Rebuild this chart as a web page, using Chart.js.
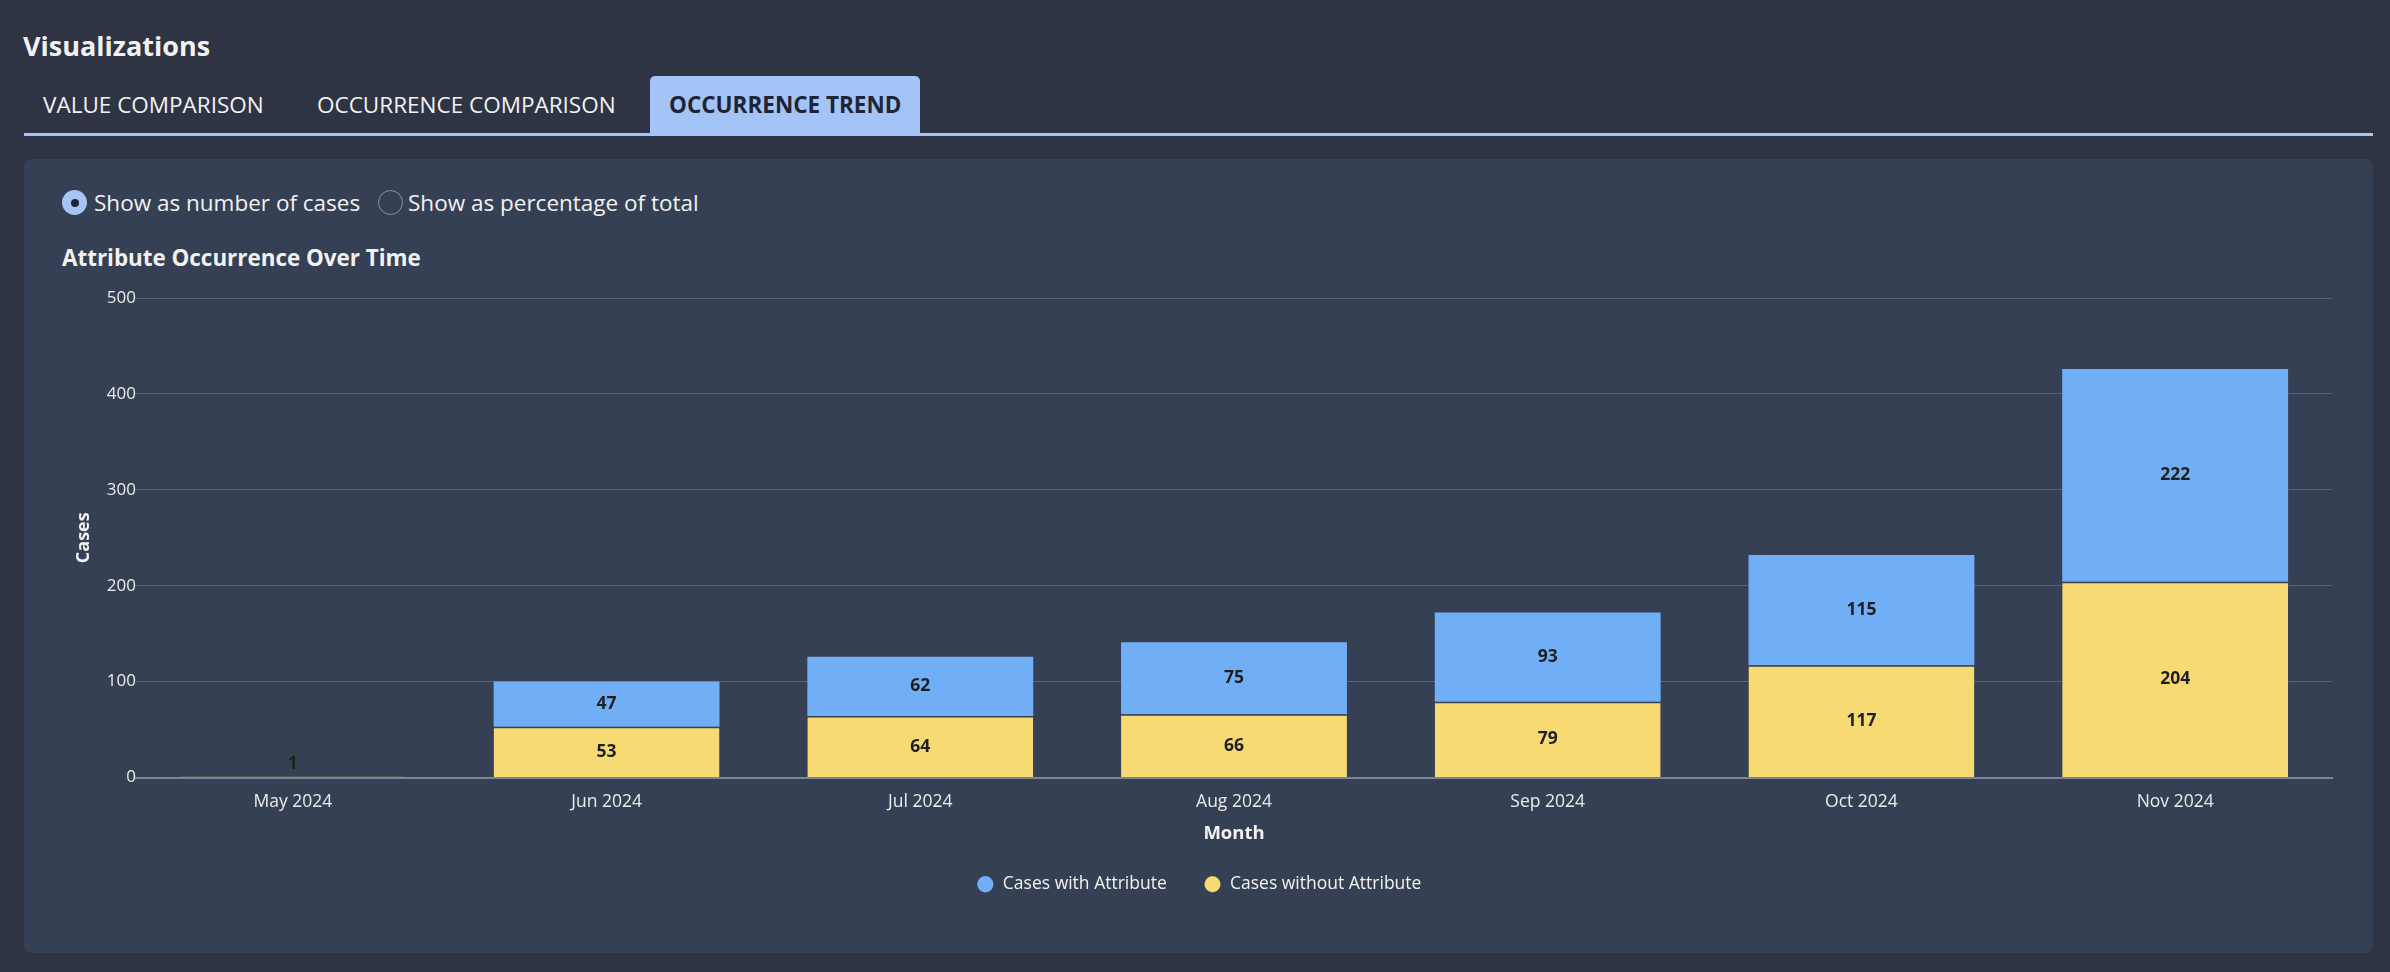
<!DOCTYPE html>
<html><head><meta charset="utf-8">
<script src="https://cdn.jsdelivr.net/npm/chart.js@4.4.1/dist/chart.umd.min.js"></script>
<style>
html,body{margin:0;padding:0;width:2390px;height:972px;background:#2e3444;overflow:hidden;font-family:'Open Sans',sans-serif;color:#f2f2f2;}
#vtitle{position:absolute;left:23px;top:26px;font-size:27px;font-weight:700;line-height:40px;}
.tab{position:absolute;top:76px;height:57px;line-height:58px;font-size:22.5px;color:#f2f2f2;white-space:nowrap;}
.tab.active{background:#a4c4f8;color:#1e2535;font-weight:700;border-radius:5px 5px 0 0;padding:0 19px;left:650px;width:232px;}
#underline{position:absolute;left:24px;top:133px;width:2349px;height:3px;background:#a4c4f8;}
#panel{position:absolute;left:24px;top:159px;width:2349px;height:794px;background:#364054;border-radius:8px;}
.radio{position:absolute;width:25px;height:25px;border-radius:50%;box-sizing:border-box;}
#r1{left:62px;top:190px;background:#a6c5f7;}
#r1:after{content:"";position:absolute;left:8.5px;top:8.5px;width:8px;height:8px;border-radius:50%;background:#1e2535;}
#r2{left:378px;top:190px;border:1.5px solid #8b92a3;}
.rlabel{position:absolute;top:185px;font-size:22.5px;line-height:36px;color:#f2f2f2;white-space:nowrap;}
#ctitle{position:absolute;left:62px;top:243px;font-size:22.4px;font-weight:700;line-height:30px;white-space:nowrap;}
#wrap{position:absolute;left:40px;top:280px;width:2317px;height:623px;}
</style></head>
<body>
<div id="vtitle">Visualizations</div>
<div class="tab" style="left:43px">VALUE COMPARISON</div>
<div class="tab" style="left:317px">OCCURRENCE COMPARISON</div>
<div class="tab active">OCCURRENCE TREND</div>
<div id="underline"></div>
<div id="panel"></div>
<div class="radio" id="r1"></div>
<div class="rlabel" style="left:94px">Show as number of cases</div>
<div class="radio" id="r2"></div>
<div class="rlabel" style="left:408px">Show as percentage of total</div>
<div id="ctitle">Attribute Occurrence Over Time</div>
<div id="wrap"><canvas id="c" width="2317" height="623"></canvas></div>
<script>
const months = ['May 2024','Jun 2024','Jul 2024','Aug 2024','Sep 2024','Oct 2024','Nov 2024'];
const casesWithAttribute = [0, 47, 62, 75, 93, 115, 222];
const casesWithoutAttribute = [1, 53, 64, 66, 79, 117, 204];
const yTicks = [0, 100, 200, 300, 400, 500];
const seriesNames = ['Cases with Attribute', 'Cases without Attribute'];

const valueLabels = {
  id: 'valueLabels',
  afterDatasetsDraw(chart) {
    const ctx = chart.ctx;
    ctx.save();
    ctx.font = "700 17.5px 'Open Sans'";
    ctx.fillStyle = '#1f1f1f';
    ctx.textAlign = 'center';
    ctx.textBaseline = 'middle';
    chart.data.datasets.forEach((ds, i) => {
      const meta = chart.getDatasetMeta(i);
      meta.data.forEach((bar, j) => {
        const v = ds.data[j];
        if (!v) return;
        let y = (bar.y + bar.base) / 2;
        y = Math.min(y, bar.base - 13);
        ctx.fillText(String(v), bar.x, y);
      });
    });
    ctx.restore();
  }
};

new Chart(document.getElementById('c'), {
  type: 'bar',
  data: {
    labels: months,
    datasets: [
      { label: seriesNames[1], data: casesWithoutAttribute, backgroundColor: '#f8da72',
        borderColor: 'rgba(58,66,84,0.9)', borderWidth: {top: 1.5, left: 0, right: 0, bottom: 0}, borderSkipped: false,
        categoryPercentage: 1, barPercentage: 0.72 },
      { label: seriesNames[0], data: casesWithAttribute, backgroundColor: '#70aef6',
        borderWidth: 0, categoryPercentage: 1, barPercentage: 0.72 }
    ]
  },
  options: {
    responsive: false,
    animation: false,
    layout: { padding: { top: 18, right: 25, left: 26, bottom: 0 } },
    plugins: {
      legend: {
        position: 'bottom', reverse: true,
        labels: { usePointStyle: true, pointStyle: 'circle', boxWidth: 17.5, boxHeight: 11.5, padding: 37,
          color: '#f2f2f2', font: { family: "'Open Sans'", size: 17.5 } }
      },
      tooltip: { enabled: false },
      title: { display: false }
    },
    scales: {
      x: {
        stacked: true,
        grid: { display: false, drawTicks: false },
        border: { display: true, color: '#7d8492', width: 2 },
        ticks: { color: '#ececec', padding: 14, font: { family: "'Open Sans'", size: 17.5 } },
        title: { display: true, text: 'Month', color: '#f2f2f2', padding: { top: 0, bottom: -6 },
          font: { family: "'Open Sans'", size: 18.5, weight: '700' } },
        afterFit(scale) { scale.height = 61; }
      },
      y: {
        stacked: true, min: 0, max: 500,
        afterBuildTicks(scale) { scale.ticks = yTicks.map(v => ({ value: v })); },
        grid: { color: '#5b6373', lineWidth: 1, drawTicks: false },
        border: { display: false },
        ticks: { color: '#ececec', padding: 0, font: { family: "'Open Sans'", size: 17 } },
        title: { display: true, text: 'Cases', color: '#f2f2f2', padding: { top: 7, bottom: 0 },
          font: { family: "'Open Sans'", size: 18, weight: '700' } },
        afterFit(scale) { scale.width = 70; }
      }
    }
  },
  plugins: [valueLabels]
});
</script>
</body></html>
